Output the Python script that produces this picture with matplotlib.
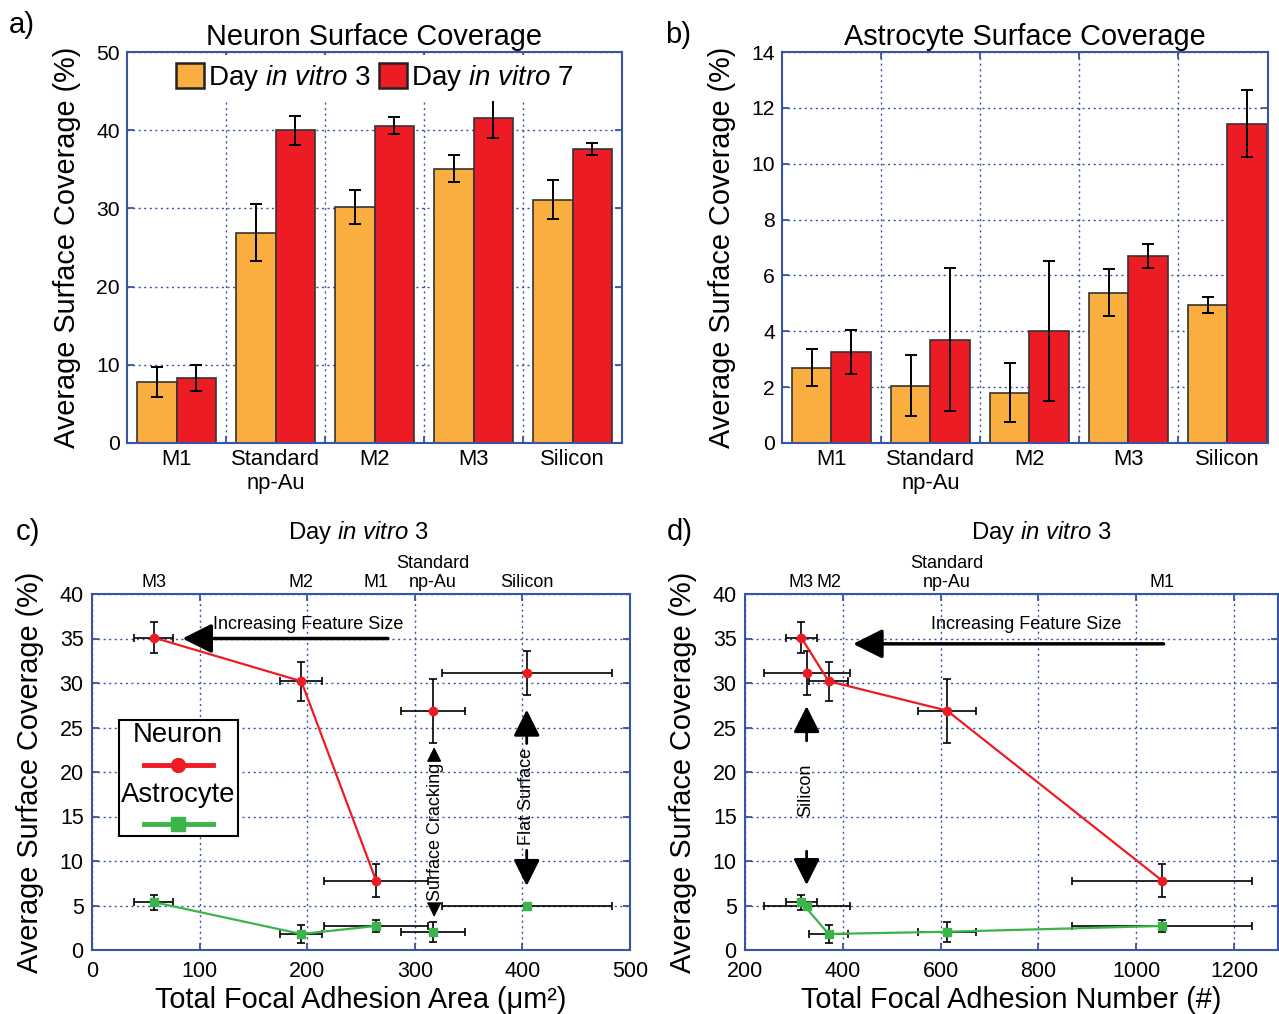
import matplotlib
matplotlib.use("Agg")
import matplotlib.pyplot as plt
import numpy as np
from matplotlib.lines import Line2D
from matplotlib.offsetbox import AnchoredOffsetbox, DrawingArea, TextArea, VPacker

plt.rcParams["font.family"] = ["Liberation Sans", "DejaVu Sans"]
plt.rcParams["mathtext.fontset"] = "custom"
plt.rcParams["mathtext.rm"] = "Liberation Sans"
plt.rcParams["mathtext.it"] = "Liberation Sans:italic"

ORANGE = "#FAAE40"
RED = "#ED1C24"
GREEN = "#3BB44A"
BLUE = "#3A54A4"
EDGE = "#333333"

# --- donnees ---
categories = ["M1", "Standard\nnp-Au", "M2", "M3", "Silicon"]

neuron_div3 = [7.8, 26.9, 30.2, 35.1, 31.1]
neuron_div3_err = [1.9, 3.6, 2.2, 1.75, 2.5]
neuron_div7 = [8.3, 40.0, 40.6, 41.5, 37.6]
neuron_div7_err = [1.7, 1.85, 1.1, 2.45, 0.8]

astro_div3 = [2.7, 2.05, 1.8, 5.38, 4.93]
astro_div3_err = [0.65, 1.1, 1.05, 0.84, 0.28]
astro_div7 = [3.25, 3.7, 4.01, 6.69, 11.43]
astro_div7_err = [0.79, 2.57, 2.52, 0.42, 1.2]

# focal adhesion, meme ordre que categories
fa_area = [264, 317, 194.5, 57.3, 404]
fa_area_err = [48, 30, 19.7, 18.3, 79]
fa_number = [1053, 613, 371, 315, 327]
fa_number_err = [184, 60, 40, 32, 88]

# points relies par la courbe (indices dans categories)
line_area = [3, 2, 0]
line_number = [3, 2, 1, 0]
top_number = [0, 1, 2, 3]

DIV3 = "Day $\\mathit{in\\ vitro}$ 3"
DIV7 = "Day $\\mathit{in\\ vitro}$ 7"
YLAB = "Average Surface Coverage (%)"

W, H = 1279, 1014
fig = plt.figure(figsize=(W / 100, H / 100), dpi=100)
fig.patch.set_facecolor("white")


def px_axes(left, right, top, bottom):
    return fig.add_axes([left / W, 1 - bottom / H, (right - left) / W, (bottom - top) / H])


def style(ax, size):
    for s in ax.spines.values():
        s.set_color(BLUE)
        s.set_linewidth(1.5)
    ax.tick_params(which="major", direction="in", top=True, right=True,
                   color=BLUE, width=1.3, length=5, labelsize=size, pad=5)
    ax.grid(True, color=BLUE, linestyle=(0, (1.5, 2.5)), linewidth=1.0)
    ax.set_axisbelow(True)


def bar_panel(ax, v3, e3, v7, e7, ymax, ystep, title):
    x = np.arange(1, len(categories) + 1)
    ax.bar(x - 0.2, v3, 0.4, color=ORANGE, edgecolor=EDGE, linewidth=1.2, label=DIV3)
    ax.bar(x + 0.2, v7, 0.4, color=RED, edgecolor=EDGE, linewidth=1.2, label=DIV7)
    kw = dict(fmt="none", ecolor="black", elinewidth=1.4, capsize=4, capthick=1.4)
    ax.errorbar(x - 0.2, v3, yerr=e3, **kw)
    ax.errorbar(x + 0.2, v7, yerr=e7, **kw)
    style(ax, 15.2)
    ax.set_ylim(0, ymax)
    ax.set_yticks(np.arange(0, ymax + 0.1, ystep))
    ax.set_xticks(x[:-1] + 0.5)
    ax.set_xticklabels([])
    ax.set_xticks(x, minor=True)
    ax.set_xticklabels(categories, minor=True)
    ax.tick_params(axis="x", which="minor", length=0, labelsize=15.8, pad=4)
    ax.set_title(title, fontsize=20.8, pad=5)
    ax.set_ylabel(YLAB, fontsize=20.8)
    return x


def scatter_panel(ax, xv, xe, line_idx, top_idx, xlim, xticks, xlabel):
    xv = np.asarray(xv, dtype=float)
    n3 = np.asarray(neuron_div3)
    a3 = np.asarray(astro_div3)
    kw = dict(fmt="none", ecolor="black", elinewidth=1.2, capsize=3, capthick=1.2, zorder=3)
    ax.errorbar(xv, n3, xerr=xe, yerr=neuron_div3_err, **kw)
    ax.errorbar(xv, a3, xerr=xe, yerr=astro_div3_err, **kw)
    ax.plot(xv[line_idx], n3[line_idx], color=RED, lw=1.6, zorder=4)
    ax.plot(xv[line_idx], a3[line_idx], color=GREEN, lw=1.6, zorder=4)
    ax.plot(xv, n3, "o", color=RED, ms=6, zorder=5)
    ax.plot(xv, a3, "s", color=GREEN, ms=6, zorder=5)
    style(ax, 15.5)
    ax.tick_params(axis="x", pad=8)
    ax.tick_params(axis="y", pad=6)
    ax.set_xlim(*xlim)
    ax.set_xticks(xticks)
    ax.set_ylim(0, 40)
    ax.set_yticks(np.arange(0, 41, 5))
    ax.set_xlabel(xlabel, fontsize=20.8, labelpad=3)
    ax.set_ylabel(YLAB, fontsize=20.8)

    # etiquettes des materiaux en haut
    sec = ax.secondary_xaxis("top")
    sec.set_xticks(xv[top_idx], [categories[i] for i in top_idx])
    sec.tick_params(length=0, labelsize=13, pad=2)
    for s in sec.spines.values():
        s.set_visible(False)


def big_arrow(ax, start, end, lw=2.5, scale=20):
    ax.annotate("", xy=end, xytext=start,
                arrowprops=dict(arrowstyle="-|>,head_length=0.9,head_width=0.45",
                                color="black", lw=lw, mutation_scale=scale,
                                shrinkA=0, shrinkB=0))


# a) neurones
ax_a = px_axes(127, 622, 52, 443)
bar_panel(ax_a, neuron_div3, neuron_div3_err, neuron_div7, neuron_div7_err,
          50, 10, "Neuron Surface Coverage")
ax_a.set_xlim(0.5, 5.5)
leg = ax_a.legend(ncol=2, loc="upper center", fontsize=20, handlelength=1.0,
                  handleheight=1.0, handletextpad=0.15, columnspacing=0.3,
                  borderaxespad=0.1, borderpad=0.3, framealpha=1)
leg.get_frame().set_linewidth(0)
for p in leg.get_patches():
    p.set_edgecolor("#222222")
    p.set_linewidth(1.8)
ax_a.yaxis.set_label_coords(-0.092, 0.5)

# b) astrocytes
ax_b = px_axes(782, 1268, 52, 443)
bar_panel(ax_b, astro_div3, astro_div3_err, astro_div7, astro_div7_err,
          14, 2, "Astrocyte Surface Coverage")
ax_b.set_xlim(0.5, 5.41)
ax_b.yaxis.set_label_coords(-0.094, 0.5)

# c) surface
ax_c = px_axes(92, 630, 594, 950)
scatter_panel(ax_c, fa_area, fa_area_err, line_area, list(range(len(categories))),
              (0, 500), np.arange(0, 501, 100), "Total Focal Adhesion Area (μm²)")
ax_c.yaxis.set_label_coords(-0.09, 0.5)
big_arrow(ax_c, (275, 35), (84, 35))
ax_c.text(112, 36.6, "Increasing Feature Size", fontsize=13, ha="left", va="center")
ax_c.text(319, 13.3, "Surface Cracking", fontsize=13, rotation=90, ha="center", va="center")
big_arrow(ax_c, (318, 21.6), (318, 22.8), lw=1, scale=10)
big_arrow(ax_c, (318, 5.0), (318, 3.7), lw=1, scale=10)
ax_c.text(404, 17.2, "Flat Surface", fontsize=13, rotation=90, ha="center", va="center")
big_arrow(ax_c, (404, 23.2), (404, 27.0), lw=2, scale=18)
big_arrow(ax_c, (404, 11.2), (404, 7.2), lw=2, scale=18)


def legend_handle(color, marker):
    da = DrawingArea(50, 14, 0, 0)
    da.add_artist(Line2D([0, 50], [7, 7], color=color, lw=3.5))
    da.add_artist(Line2D([25], [7], marker=marker, color=color, ms=10))
    return da


tp = dict(fontsize=19.8)
box = VPacker(children=[TextArea("Neuron", textprops=tp), legend_handle(RED, "o"),
                        TextArea("Astrocyte", textprops=tp), legend_handle(GREEN, "s")],
              align="center", pad=0, sep=5)
anch = AnchoredOffsetbox(loc="upper left", child=box, pad=0.15, borderpad=0,
                         frameon=True, bbox_to_anchor=(0.05, 0.645),
                         bbox_transform=ax_c.transAxes)
anch.patch.set_linewidth(1.5)
anch.patch.set_edgecolor("black")
anch.zorder = 6
ax_c.add_artist(anch)

# d) nombre
ax_d = px_axes(745, 1278, 594, 950)
scatter_panel(ax_d, fa_number, fa_number_err, line_number, top_number,
              (200, 1290), np.arange(200, 1201, 200), "Total Focal Adhesion Number (#)")
ax_d.yaxis.set_label_coords(-0.09, 0.5)
big_arrow(ax_d, (1056, 34.4), (421, 34.4))
ax_d.text(775, 36.6, "Increasing Feature Size", fontsize=13, ha="center", va="center")
ax_d.text(325, 17.9, "Silicon", fontsize=13, rotation=90, ha="center", va="center")
big_arrow(ax_d, (326, 23.5), (326, 27.4), lw=2, scale=18)
big_arrow(ax_d, (326, 11.1), (326, 7.3), lw=2, scale=18)

# titres c/d et lettres des panneaux
fig.text(358 / W, 1 - 533 / H, DIV3, fontsize=17.2, ha="center", va="center")
fig.text(1041 / W, 1 - 533 / H, DIV3, fontsize=17.2, ha="center", va="center")
for lab, (px, py) in {"a)": (22, 25), "b)": (678, 35), "c)": (28, 532), "d)": (680, 532)}.items():
    fig.text(px / W, 1 - py / H, lab, fontsize=21, ha="center", va="center")

fig.savefig("out.png", dpi=100, facecolor="white")
